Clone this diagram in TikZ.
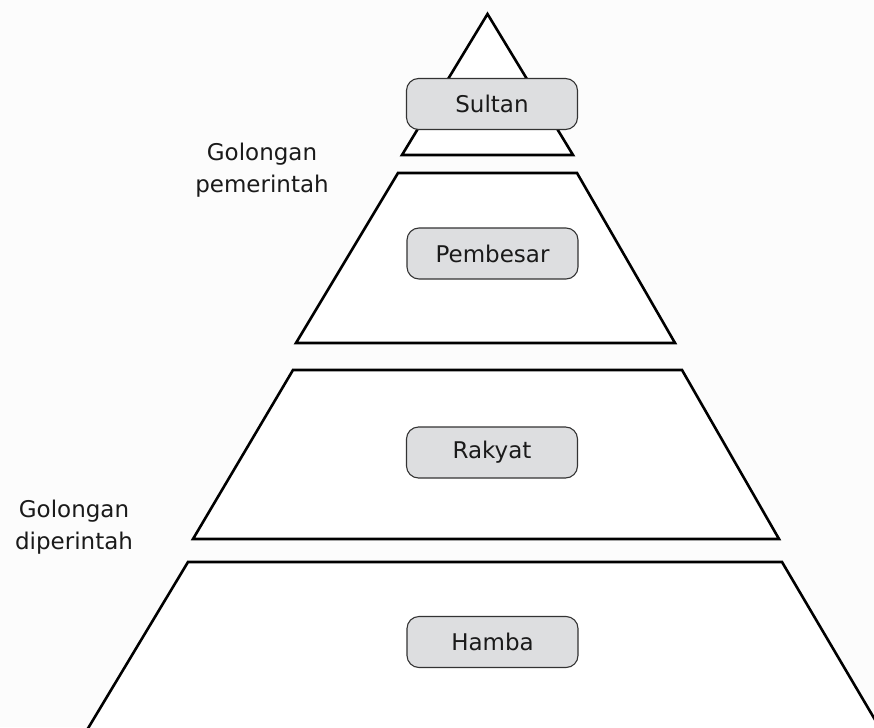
\documentclass[tikz,border=0pt]{standalone}
\usepackage{fontspec}
\setmainfont{DejaVu Sans}
\definecolor{boxfill}{HTML}{DDDEE0}
\definecolor{boxline}{HTML}{333333}
\definecolor{bgc}{HTML}{FCFCFC}
\definecolor{txt}{HTML}{1A1A1A}
\begin{document}
\begin{tikzpicture}[x=1pt,y=-1pt,
  tier/.style={draw=black,line width=2.6pt,fill=white,line join=miter},
  rank/.style={draw=boxline,line width=1.1pt,fill=boxfill,rounded corners=12pt,
    minimum width=171pt,minimum height=51pt,inner sep=0pt,
    font=\fontsize{23}{27}\selectfont,text=txt},
  grouplabel/.style={align=center,font=\fontsize{23}{32}\selectfont,text=txt,inner sep=0pt}]
\path[fill=bgc] (0,0) rectangle (874,727);
\useasboundingbox (0,0) rectangle (874,727);
\begin{scope}
\clip (0,0) rectangle (874,727);
% tiers
\draw[tier] (487.5,14) -- (573,155) -- (402,155) -- cycle;
\draw[tier] (398,173) -- (577,173) -- (675,343) -- (296,343) -- cycle;
\draw[tier] (293,370) -- (682,370) -- (779,539) -- (193,539) -- cycle;
\draw[tier] (188,562) -- (782,562) -- (884,735) -- (84,735) -- cycle;
\end{scope}
% ranks
\node[rank] (sultan) at (492,104) {Sultan};
\node[rank] (pembesar) at (492.5,253.5) {Pembesar};
\node[rank] (rakyat) at (492,452.5) {Rakyat};
\node[rank] (hamba) at (492.5,642) {Hamba};
% group labels
\node[grouplabel] (gpem) at (262,170) {Golongan\\pemerintah};
\node[grouplabel] (gdip) at (74,527) {Golongan\\diperintah};
\end{tikzpicture}
\end{document}
